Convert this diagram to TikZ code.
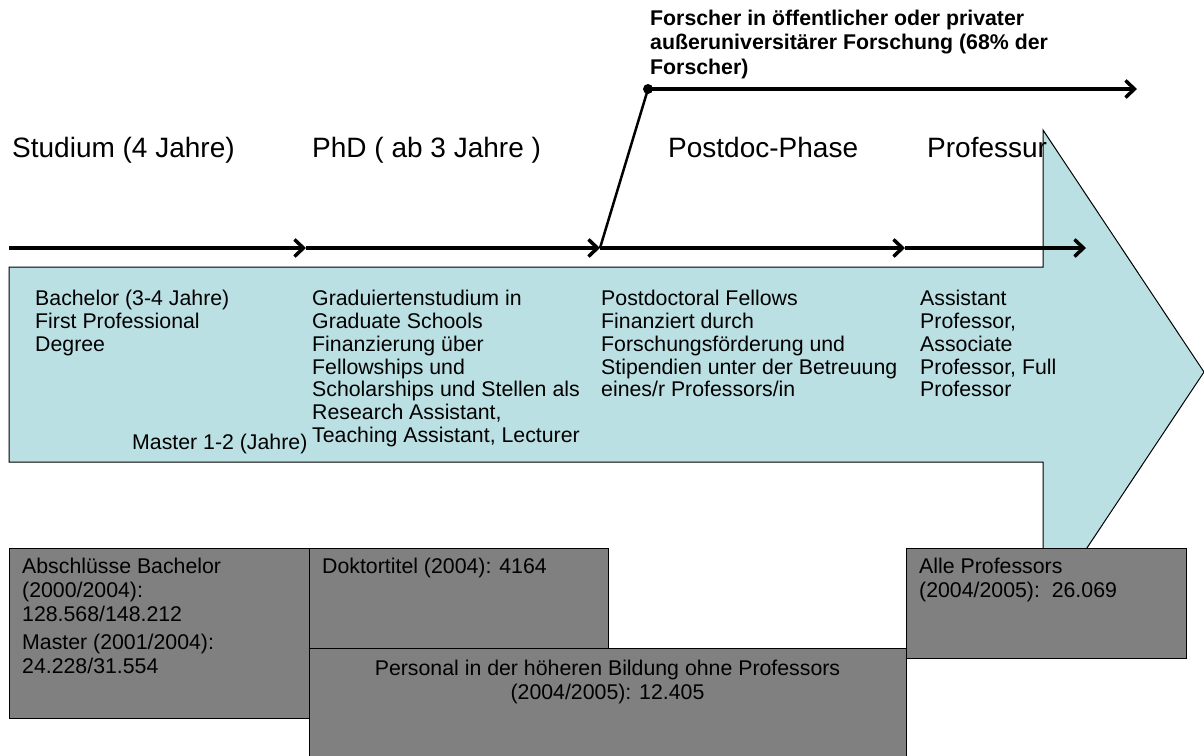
\documentclass[tikz,border=0pt]{standalone}
\usepackage{fontspec}
\setmainfont{Liberation Sans}
\usetikzlibrary{arrows.meta}
\definecolor{lightblue}{RGB}{187,224,227}
\definecolor{boxgray}{RGB}{128,128,128}
\begin{document}
\begin{tikzpicture}[x=1pt,y=-1pt,
  phase/.style={anchor=base west,inner sep=0pt,font=\fontsize{28}{33}\selectfont},
  bodytext/.style={anchor=north west,inner sep=0pt,align=left,font=\fontsize{21.3}{22.8}\selectfont},
  graytext/.style={inner sep=0pt,font=\fontsize{21.3}{24}\selectfont},
  grayrect/.style={fill=boxgray,draw=black,line width=1pt},
  flow/.style={line width=3.5pt,-{Straight Barb[length=9pt,width=17pt]}},
  slant/.style={line width=2.5pt},
  blockarrow/.style={fill=lightblue,draw=black,line width=1pt},
]
\useasboundingbox (0,0) rectangle (1204,755);
\fill[white] (0,0) rectangle (1204,755);

% big block arrow
\draw[blockarrow] (9,267) -- (1043,267) -- (1043,130) -- (1204,372) -- (1043,614) -- (1043,462) -- (9,462) -- cycle;

% timeline coordinates
\coordinate (p0) at (9,248);
\coordinate (p1) at (306,248);
\coordinate (p2) at (600,248);
\coordinate (p3) at (905,248);
\coordinate (p4) at (1086,248);
\coordinate (q0) at (648,89);
\coordinate (q1) at (1137,89);

\draw[flow] (p0) -- (p1);
\draw[flow] (p1) -- (p2);
\draw[flow] (p2) -- (p3);
\draw[flow] (p3) -- (p4);
\draw[slant] (p2) -- (q0);
\draw[flow] (q0) -- (q1);
\fill (q0) circle (5pt);

% top label
\node[anchor=north west,inner sep=0pt,align=left,font=\bfseries\fontsize{21.3}{24.2}\selectfont] (forscher) at (650,8.6)
  {\strut Forscher in öffentlicher oder privater\\außeruniversitärer Forschung (68\% der\\Forscher)};

% phase labels
\node[phase] (studium) at (12,157) {Studium (4 Jahre)};
\node[phase] (phd) at (312,157) {PhD ( ab 3 Jahre )};
\node[phase] (postdoc) at (668,157) {Postdoc-Phase};
\node[phase] (prof) at (927,157) {Professur};

% texts on the block arrow (first baseline 305.5)
\node[bodytext] (bachelor) at (35,289.5) {\strut Bachelor (3-4 Jahre)\\First Professional\\Degree};
\node[bodytext] (grad) at (312,289.5) {\strut Graduiertenstudium in\\Graduate Schools\\Finanzierung über\\Fellowships und\\Scholarships und Stellen als\\Research Assistant,\\Teaching Assistant, Lecturer};
\node[bodytext] (pdf) at (601,289.5) {\strut Postdoctoral Fellows\\Finanziert durch\\Forschungsförderung und\\Stipendien unter der Betreuung\\eines/r Professors/in};
\node[bodytext] (asst) at (920,289.5) {\strut Assistant\\Professor,\\Associate\\Professor, Full\\Professor};
\node[anchor=base west,inner sep=0pt,font=\fontsize{21.3}{22.8}\selectfont] (master) at (132,449) {Master 1-2 (Jahre)};

% gray boxes
\draw[grayrect] (9,548) rectangle (309,718);
\draw[grayrect] (309,548) rectangle (608,648);
\draw[grayrect] (309,648) rectangle (906,762);
\draw[grayrect] (906,548) rectangle (1186,658);

\node[graytext,anchor=north west,align=left] (abschl) at (22,556.7)
  {\strut Abschlüsse Bachelor\\(2000/2004):\\128.568/148.212\\[4pt]Master (2001/2004):\\24.228/31.554};
\node[graytext,anchor=north west,align=left] (doktor) at (322,556.7)
  {\strut Doktortitel (2004): 4164};
\node[graytext,anchor=north,align=center] (personal) at (607.5,658.7)
  {\strut Personal in der höheren Bildung ohne Professors\\(2004/2005): 12.405};
\node[graytext,anchor=north west,align=left] (alle) at (919,556.7)
  {\strut Alle Professors\\(2004/2005):\ \ 26.069};
\end{tikzpicture}
\end{document}
